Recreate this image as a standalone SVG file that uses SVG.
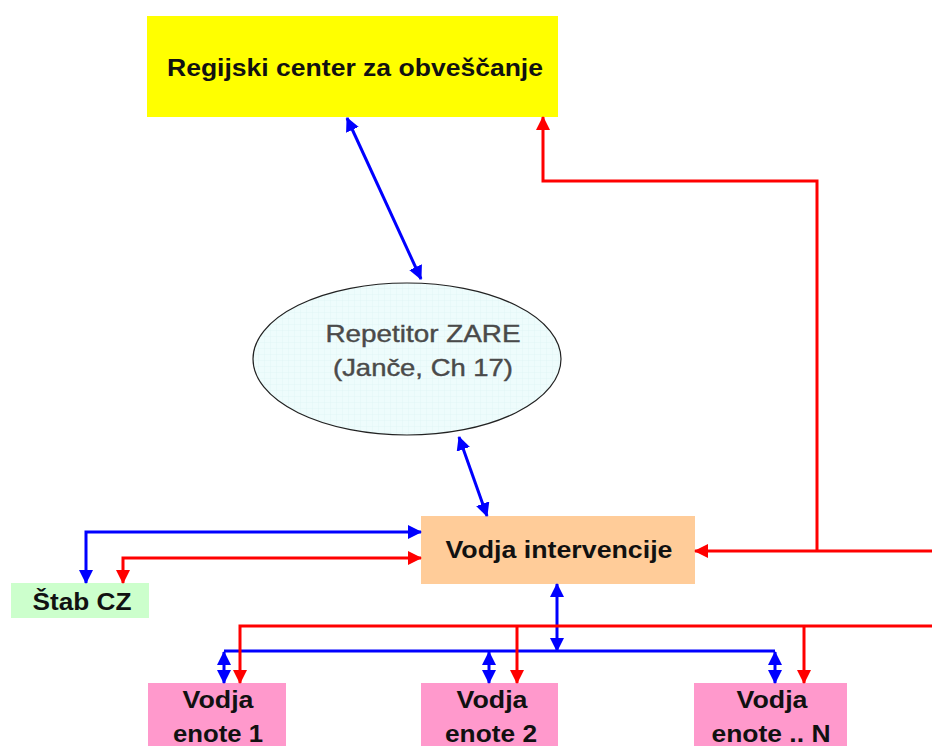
<svg xmlns="http://www.w3.org/2000/svg" width="932" height="746" viewBox="0 0 932 746">
<style>
  .t { font-family: "Liberation Sans", Arial, sans-serif; font-weight: bold; font-size: 23px; fill: #111; text-anchor: middle; }
  .tg { font-family: "Liberation Sans", Arial, sans-serif; font-size: 24px; fill: #4a4a4a; text-anchor: middle; stroke: #4a4a4a; stroke-width: 0.4; }
  .b { stroke: #0000ff; stroke-width: 3; fill: none; }
  .r { stroke: #ff0000; stroke-width: 3; fill: none; }
</style>
<defs>
  <marker id="ab" viewBox="0 0 14 14" refX="13" refY="7" markerWidth="14" markerHeight="14" markerUnits="userSpaceOnUse" orient="auto-start-reverse">
    <path d="M0,0 L14,7 L0,14 z" fill="#0000ff"/>
  </marker>
  <marker id="ar" viewBox="0 0 14 14" refX="13" refY="7" markerWidth="14" markerHeight="14" markerUnits="userSpaceOnUse" orient="auto-start-reverse">
    <path d="M0,0 L14,7 L0,14 z" fill="#ff0000"/>
  </marker>
  <pattern id="grid" width="6" height="6" patternUnits="userSpaceOnUse">
    <rect width="6" height="6" fill="#eefcfc"/>
    <path d="M0,0 H6 M0,0 V6" stroke="#daf1f1" stroke-width="0.6"/>
  </pattern>
</defs>
<rect width="932" height="746" fill="#ffffff"/>

<g id="regijski">
  <rect x="147" y="16" width="411" height="101" fill="#ffff00"/>
  <text class="t" x="355" y="76" textLength="376" lengthAdjust="spacingAndGlyphs">Regijski center za obveščanje</text>
</g>

<g id="repetitor">
  <ellipse cx="407" cy="359" rx="154" ry="76" fill="url(#grid)" stroke="#222" stroke-width="1.2"/>
  <text class="tg" x="423" y="342" textLength="195" lengthAdjust="spacingAndGlyphs">Repetitor ZARE</text>
  <text class="tg" x="423" y="376" textLength="180" lengthAdjust="spacingAndGlyphs">(Janče, Ch 17)</text>
</g>

<g id="vodja-intervencije">
  <rect x="421" y="516" width="274" height="68" fill="#ffcc99"/>
  <text class="t" x="559" y="558" textLength="227" lengthAdjust="spacingAndGlyphs">Vodja intervencije</text>
</g>

<g id="stab-cz">
  <rect x="11" y="583" width="138" height="35" fill="#ccffcc"/>
  <text class="t" x="82" y="610" textLength="99" lengthAdjust="spacingAndGlyphs">Štab CZ</text>
</g>

<g id="enota-1">
  <rect x="148" y="683" width="138" height="70" fill="#ff99cc"/>
  <text class="t" x="218" y="708" textLength="71" lengthAdjust="spacingAndGlyphs">Vodja</text>
  <text class="t" x="218" y="742" textLength="90" lengthAdjust="spacingAndGlyphs">enote 1</text>
</g>

<g id="enota-2">
  <rect x="421" y="683" width="137" height="70" fill="#ff99cc"/>
  <text class="t" x="492" y="708" textLength="71" lengthAdjust="spacingAndGlyphs">Vodja</text>
  <text class="t" x="491" y="742" textLength="92" lengthAdjust="spacingAndGlyphs">enote 2</text>
</g>

<g id="enota-n">
  <rect x="694" y="683" width="153" height="70" fill="#ff99cc"/>
  <text class="t" x="772" y="708" textLength="71" lengthAdjust="spacingAndGlyphs">Vodja</text>
  <text class="t" x="771" y="742" textLength="119" lengthAdjust="spacingAndGlyphs">enote .. N</text>
</g>

<g id="connectors">
  <path class="b" d="M347,118 L421,279" marker-start="url(#ab)" marker-end="url(#ab)"/>
  <path class="b" d="M459,437 L487,516" marker-start="url(#ab)" marker-end="url(#ab)"/>
  <path class="b" d="M421,532 L86,532 L86,583" marker-start="url(#ab)" marker-end="url(#ab)"/>
  <path class="b" d="M557,584 L557,651" marker-start="url(#ab)" marker-end="url(#ab)"/>
  <path class="b" d="M224,651 L775,651"/>
  <path class="b" d="M224,652 L224,683" marker-start="url(#ab)" marker-end="url(#ab)"/>
  <path class="b" d="M489,652 L489,683" marker-start="url(#ab)" marker-end="url(#ab)"/>
  <path class="b" d="M775,652 L775,683" marker-start="url(#ab)" marker-end="url(#ab)"/>

  <path class="r" d="M421,558 L123,558 L123,583" marker-start="url(#ar)" marker-end="url(#ar)"/>
  <path class="r" d="M932,551 L695,551" marker-end="url(#ar)"/>
  <path class="r" d="M817,551 L817,181 L543,181 L543,117" marker-end="url(#ar)"/>
  <path class="r" d="M932,626 L240,626 L240,683" marker-end="url(#ar)"/>
  <path class="r" d="M517,626 L517,683" marker-end="url(#ar)"/>
  <path class="r" d="M804,626 L804,683" marker-end="url(#ar)"/>
</g>
</svg>
